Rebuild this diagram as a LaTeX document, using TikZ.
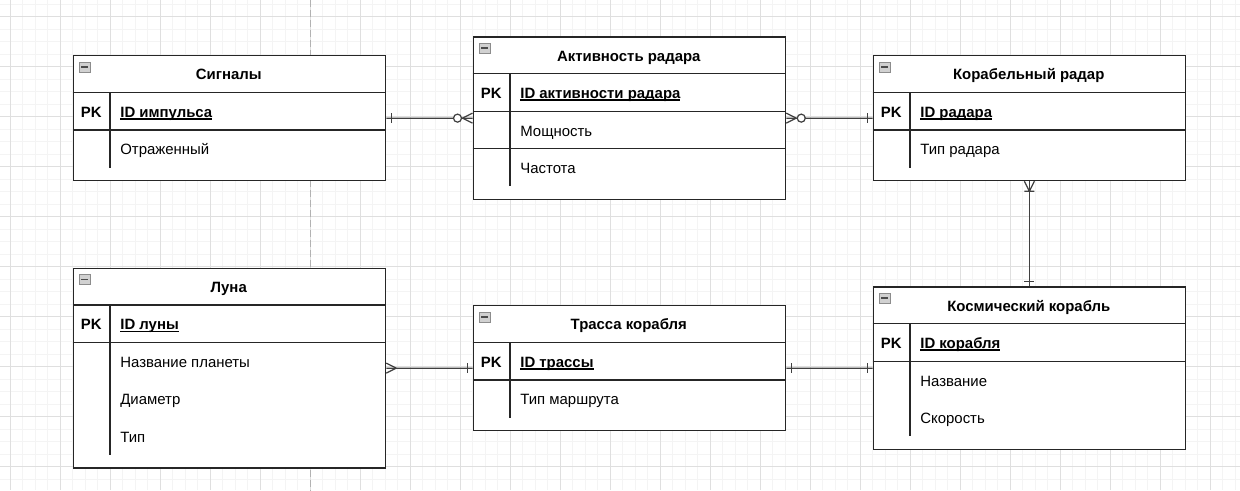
\documentclass[tikz,border=0pt]{standalone}
\usepackage{fontspec}
\setmainfont{Liberation Sans}
\usetikzlibrary{calc}
\newcommand{\pkey}[1]{\setbox0=\hbox{#1}\rlap{\vrule width\wd0 height -0.4pt depth 1.2pt}\box0}

\begin{document}
\begin{tikzpicture}[x=0.02cm, y=-0.02cm, font=\fontsize{8.5}{10}\selectfont, gridminor/.style={draw=gray!9, line width=0.5pt}, gridmajor/.style={draw=gray!25, line width=0.5pt}, pagebreak/.style={draw=gray!60, line width=0.5pt, dash pattern=on 0.14cm off 0.06cm}, tbl/.style={draw=black!85, line width=0.75pt, fill=white, anchor=north west, minimum width=6.25cm, inner sep=0pt}, tline/.style={draw=black!85, line width=0.75pt}, txt/.style={inner sep=0pt, text height=7.1pt, text depth=0pt}, ttl/.style={txt, font=\fontsize{8.5}{10}\selectfont\bfseries}, pk/.style={txt, font=\fontsize{8.5}{10}\selectfont\bfseries}, fld/.style={txt, anchor=west}, key/.style={fld, font=\fontsize{8.5}{10}\selectfont\bfseries}, icon/.style={draw=black!45, fill=black!18, line width=0.4pt, minimum width=0.22cm, minimum height=0.2cm, inner sep=0pt, path picture={\draw[black!70, line width=0.9pt] ([xshift=1.2pt]path picture bounding box.west) -- ([xshift=-1.2pt]path picture bounding box.east);}}, rel/.style={draw=black!75, line width=0.7pt}]
\useasboundingbox (0,0) rectangle (1240,490);
\fill[white] (0,0) rectangle (1240,490);
% background grid
\foreach \gx in {10,22.5,...,1240} \draw[gridminor] (\gx,0) -- (\gx,490);
\foreach \gy in {4.2,16.7,...,490} \draw[gridminor] (0,\gy) -- (1240,\gy);
\foreach \gx in {10,60,...,1240} \draw[gridmajor] (\gx,0) -- (\gx,490);
\foreach \gy in {16.7,66.7,...,490} \draw[gridmajor] (0,\gy) -- (1240,\gy);
\draw[pagebreak] (310.7,0) -- (310.7,490);
% tables
\node[tbl, minimum height=2.5cm] (sig) at (72.5,55) {};
\node[icon] (sig-i) at (84.5,67) {};\node[ttl] (sig-t) at (228.75,73.75) {Сигналы};
\draw[tline] (72.5,92.5) -- (385,92.5) (72.5,130) -- (385,130) (110,92.5) -- (110,167.5);
\node[pk] (sig-pk) at (91.25,111.25) {PK};\node[key] (sig-k) at (120,111.25) {\pkey{ID импульса}};
\node[fld] (sig-f1) at (120,148.75) {Отраженный};

\node[tbl, minimum height=3.25cm] (act) at (472.5,36.25) {};
\node[icon] (act-i) at (484.5,48.25) {};\node[ttl] (act-t) at (628.75,55) {Активность радара};
\draw[tline] (472.5,73.75) -- (785,73.75) (472.5,111.25) -- (785,111.25) (472.5,148.75) -- (785,148.75) (510,73.75) -- (510,186.25);
\node[pk] (act-pk) at (491.25,92.5) {PK};\node[key] (act-k) at (520,92.5) {\pkey{ID активности радара}};
\node[fld] (act-f1) at (520,130) {Мощность};
\node[fld] (act-f2) at (520,167.5) {Частота};

\node[tbl, minimum height=2.5cm] (rad) at (872.5,55) {};
\node[icon] (rad-i) at (884.5,67) {};\node[ttl] (rad-t) at (1028.75,73.75) {Корабельный радар};
\draw[tline] (872.5,92.5) -- (1185,92.5) (872.5,130) -- (1185,130) (910,92.5) -- (910,167.5);
\node[pk] (rad-pk) at (891.25,111.25) {PK};\node[key] (rad-k) at (920,111.25) {\pkey{ID радара}};
\node[fld] (rad-f1) at (920,148.75) {Тип радара};

\node[tbl, minimum height=4cm] (luna) at (72.5,267.5) {};
\node[icon] (luna-i) at (84.5,279.5) {};\node[ttl] (luna-t) at (228.75,286.25) {Луна};
\draw[tline] (72.5,305) -- (385,305) (72.5,342.5) -- (385,342.5) (110,305) -- (110,455);
\node[pk] (luna-pk) at (91.25,323.75) {PK};\node[key] (luna-k) at (120,323.75) {\pkey{ID луны}};
\node[fld] (luna-f1) at (120,361.25) {Название планеты};
\node[fld] (luna-f2) at (120,398.75) {Диаметр};
\node[fld] (luna-f3) at (120,436.25) {Тип};

\node[tbl, minimum height=2.5cm] (trs) at (472.5,305) {};
\node[icon] (trs-i) at (484.5,317) {};\node[ttl] (trs-t) at (628.75,323.75) {Трасса корабля};
\draw[tline] (472.5,342.5) -- (785,342.5) (472.5,380) -- (785,380) (510,342.5) -- (510,417.5);
\node[pk] (trs-pk) at (491.25,361.25) {PK};\node[key] (trs-k) at (520,361.25) {\pkey{ID трассы}};
\node[fld] (trs-f1) at (520,398.75) {Тип маршрута};

\node[tbl, minimum height=3.25cm] (ship) at (872.5,286.25) {};
\node[icon] (ship-i) at (884.5,298.25) {};\node[ttl] (ship-t) at (1028.75,305) {Космический корабль};
\draw[tline] (872.5,323.75) -- (1185,323.75) (872.5,361.25) -- (1185,361.25) (910,323.75) -- (910,436.25);
\node[pk] (ship-pk) at (891.25,342.5) {PK};\node[key] (ship-k) at (920,342.5) {\pkey{ID корабля}};
\node[fld] (ship-f1) at (920,380) {Название};
\node[fld] (ship-f2) at (920,417.5) {Скорость};
% relations
\draw[rel] (sig) -- (act);\draw[rel] ($(sig.east)+(5,-5)$) -- ++(0,10);
\draw[rel] ($(act.west)+(-10,0)$) -- ($(act.west)+(0,-5)$) ($(act.west)+(-10,0)$) -- ($(act.west)+(0,5)$);\draw[rel, fill=white] ($(act.west)+(-15,0)$) circle[radius=0.08cm];
\draw[rel] (act) -- (rad);\draw[rel] ($(rad.west)+(-5,-5)$) -- ++(0,10);
\draw[rel] ($(act.east)+(10,0)$) -- ($(act.east)+(0,-5)$) ($(act.east)+(10,0)$) -- ($(act.east)+(0,5)$);\draw[rel, fill=white] ($(act.east)+(15,0)$) circle[radius=0.08cm];
\draw[rel] (rad) -- (ship);\draw[rel] ($(ship.north)+(-5,-5)$) -- ++(10,0);
\draw[rel] ($(rad.south)+(0,10)$) -- ($(rad.south)+(-5,0)$) ($(rad.south)+(0,10)$) -- ($(rad.south)+(5,0)$) ($(rad.south)+(-5,10)$) -- ++(10,0);
\draw[rel] (luna) -- (trs);\draw[rel] ($(trs.west)+(-5,-5)$) -- ++(0,10);
\draw[rel] ($(luna.east)+(10,0)$) -- ($(luna.east)+(0,-5)$) ($(luna.east)+(10,0)$) -- ($(luna.east)+(0,5)$);
\draw[rel] (trs) -- (ship);\draw[rel] ($(trs.east)+(5,-5)$) -- ++(0,10);\draw[rel] ($(ship.west)+(-5,-5)$) -- ++(0,10);
\end{tikzpicture}
\end{document}
